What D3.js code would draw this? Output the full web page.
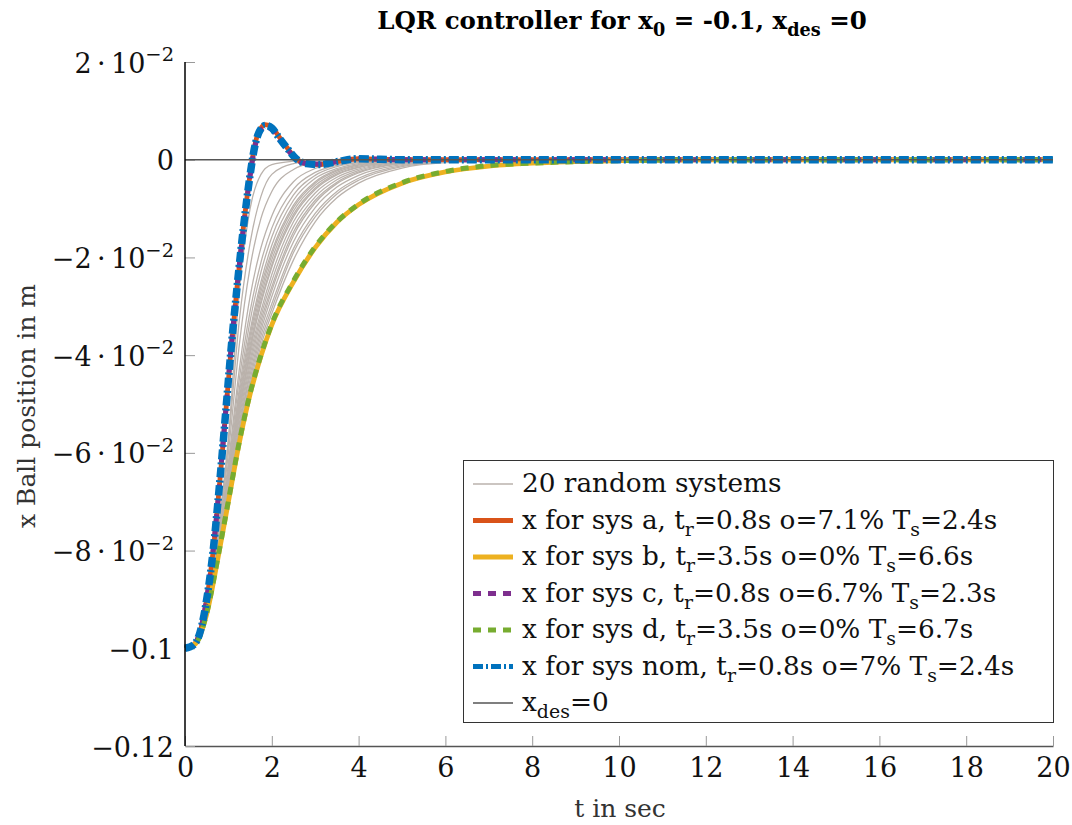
<!DOCTYPE html>
<html>
<head>
<meta charset="utf-8">
<script src="https://cdn.jsdelivr.net/npm/d3@7"></script>
<style>
  body { margin: 0; background: #fff; }
  text { font-family: "DejaVu Serif", serif; }
</style>
</head>
<body>
<div id="chart"></div>
<script>
// time grids (s)
var tFast = [0, 0.2, 0.35, 0.5, 0.65, 0.75, 0.85, 0.95, 1.05, 1.2, 1.35, 1.5, 1.6, 1.7, 1.85, 2.0, 2.15, 2.35, 2.55, 2.8, 3.1, 3.5, 4.0, 4.5, 5, 6, 8, 20]
var tSlow = [0, 0.25, 0.5, 0.75, 1, 1.25, 1.5, 1.75, 2, 2.5, 3, 3.5, 4, 5, 6, 7, 8, 10, 12, 20]
var tRand = [0, 0.25, 0.5, 0.75, 1, 1.25, 1.5, 1.75, 2, 2.5, 3, 3.5, 4, 5, 6, 8, 10, 20]

// ball position (m)
var xSysA = [-0.1, -0.0993, -0.0966, -0.09, -0.08, -0.071, -0.061, -0.0505, -0.04, -0.026, -0.0135, -0.003, 0.0026, 0.0057, 0.0072, 0.0067, 0.0049, 0.0025, 0.0003, -0.0008, -0.001, -0.0004, 0.0002, 0.0001, 0, 0, 0, 0]
var xSysC = [-0.1, -0.0993, -0.0965, -0.0898, -0.0797, -0.0708, -0.0607, -0.0502, -0.0398, -0.026, -0.0137, -0.0033, 0.0022, 0.0052, 0.0067, 0.0062, 0.0045, 0.0022, 0.0002, -0.0008, -0.0009, -0.0004, 0.0002, 0.0001, 0, 0, 0, 0]
var xSysNom = [-0.1, -0.0993, -0.0966, -0.09, -0.0799, -0.0709, -0.0609, -0.0504, -0.0399, -0.026, -0.0136, -0.0031, 0.0024, 0.0055, 0.007, 0.0065, 0.0047, 0.0024, 0.0003, -0.0008, -0.001, -0.0004, 0.0002, 0.0001, 0, 0, 0, 0]
var xSysB = [-0.1, -0.099, -0.093, -0.082, -0.07, -0.058, -0.048, -0.0402, -0.0338, -0.025, -0.018, -0.0128, -0.0092, -0.0048, -0.0025, -0.0013, -0.0007, -0.0002, -0.00005, 0]
var xSysD = [-0.1, -0.099, -0.0928, -0.0818, -0.0698, -0.0578, -0.0478, -0.04, -0.0336, -0.0248, -0.0178, -0.0127, -0.0091, -0.0047, -0.0024, -0.0012, -0.0007, -0.0002, 0, 0]

var xRandom = [
  [-0.1, -0.0985, -0.091, -0.077, -0.057, -0.027, -0.010, -0.003, -0.001, -0.0003, -0.0001, 0, 0, 0, 0, 0, 0, 0],
  [-0.1, -0.0985, -0.091, -0.077, -0.058, -0.033, -0.017, -0.0075, -0.003, -0.0008, -0.0002, 0, 0, 0, 0, 0, 0, 0],
  [-0.1, -0.0986, -0.092, -0.078, -0.060, -0.038, -0.022, -0.012, -0.0065, -0.002, -0.0006, -0.0002, 0, 0, 0, 0, 0, 0],
  [-0.1, -0.0986, -0.092, -0.079, -0.062, -0.043, -0.028, -0.018, -0.0115, -0.0045, -0.0018, -0.0007, -0.0003, 0, 0, 0, 0, 0],
  [-0.1, -0.0987, -0.092, -0.079, -0.063, -0.045, -0.031, -0.021, -0.014, -0.006, -0.0026, -0.0011, -0.0005, -0.0001, 0, 0, 0, 0],
  [-0.1, -0.0987, -0.092, -0.080, -0.064, -0.047, -0.033, -0.023, -0.0158, -0.0072, -0.0032, -0.0014, -0.0006, -0.0001, 0, 0, 0, 0],
  [-0.1, -0.0987, -0.092, -0.080, -0.064, -0.048, -0.035, -0.025, -0.0175, -0.0083, -0.0038, -0.0018, -0.0008, -0.0002, 0, 0, 0, 0],
  [-0.1, -0.0988, -0.092, -0.080, -0.065, -0.049, -0.036, -0.026, -0.0188, -0.0093, -0.0045, -0.0021, -0.001, -0.0002, 0, 0, 0, 0],
  [-0.1, -0.0988, -0.092, -0.080, -0.065, -0.050, -0.037, -0.027, -0.0195, -0.0098, -0.0048, -0.0023, -0.0011, -0.0003, -0.0001, 0, 0, 0],
  [-0.1, -0.0988, -0.092, -0.081, -0.066, -0.050, -0.038, -0.028, -0.0205, -0.0105, -0.0053, -0.0026, -0.0013, -0.0003, -0.0001, 0, 0, 0],
  [-0.1, -0.0988, -0.093, -0.081, -0.066, -0.051, -0.039, -0.029, -0.0215, -0.0112, -0.0058, -0.0029, -0.0015, -0.0004, -0.0001, 0, 0, 0],
  [-0.1, -0.0989, -0.093, -0.081, -0.066, -0.052, -0.039, -0.0295, -0.022, -0.0117, -0.0061, -0.0031, -0.0016, -0.0004, -0.0001, 0, 0, 0],
  [-0.1, -0.0989, -0.093, -0.081, -0.067, -0.052, -0.040, -0.031, -0.0235, -0.0127, -0.0068, -0.0036, -0.0019, -0.0005, -0.0001, 0, 0, 0],
  [-0.1, -0.0989, -0.093, -0.081, -0.067, -0.053, -0.041, -0.032, -0.0248, -0.0138, -0.0076, -0.0041, -0.0022, -0.0006, -0.0002, 0, 0, 0],
  [-0.1, -0.0989, -0.093, -0.081, -0.068, -0.054, -0.042, -0.033, -0.026, -0.0148, -0.0083, -0.0046, -0.0025, -0.0007, -0.0002, 0, 0, 0],
  [-0.1, -0.099, -0.093, -0.082, -0.068, -0.055, -0.043, -0.034, -0.0268, -0.0155, -0.0088, -0.0049, -0.0027, -0.0008, -0.0002, 0, 0, 0],
  [-0.1, -0.099, -0.093, -0.082, -0.068, -0.055, -0.044, -0.035, -0.028, -0.0168, -0.0098, -0.0056, -0.0032, -0.001, -0.0003, 0, 0, 0],
  [-0.1, -0.099, -0.093, -0.082, -0.069, -0.056, -0.045, -0.036, -0.0295, -0.0182, -0.011, -0.0065, -0.0038, -0.0012, -0.0004, -0.0001, 0, 0],
  [-0.1, -0.099, -0.093, -0.082, -0.069, -0.057, -0.046, -0.037, -0.0305, -0.019, -0.0117, -0.007, -0.0042, -0.0014, -0.0005, -0.0001, 0, 0],
  [-0.1, -0.099, -0.093, -0.082, -0.069, -0.057, -0.047, -0.038, -0.0315, -0.0205, -0.0127, -0.0078, -0.0048, -0.0017, -0.0006, -0.0001, 0, 0]
]

var tDes = [0, 20]
var xDes = [0, 0]

var xTickVals = [0, 2, 4, 6, 8, 10, 12, 14, 16, 18, 20]
var yTickVals = [-0.12, -0.1, -0.08, -0.06, -0.04, -0.02, 0, 0.02]
var yTickLabels = ["\u22120.12", "\u22120.1", "\u22128\u2009\u00b7\u200910^{\u22122}", "\u22126\u2009\u00b7\u200910^{\u22122}",
  "\u22124\u2009\u00b7\u200910^{\u22122}", "\u22122\u2009\u00b7\u200910^{\u22122}", "0", "2\u2009\u00b7\u200910^{\u22122}"]

var legendLabels = [
  "20 random systems",
  "x for sys a, t_{r}=0.8s o=7.1% T_{s}=2.4s",
  "x for sys b, t_{r}=3.5s o=0% T_{s}=6.6s",
  "x for sys c, t_{r}=0.8s o=6.7% T_{s}=2.3s",
  "x for sys d, t_{r}=3.5s o=0% T_{s}=6.7s",
  "x for sys nom, t_{r}=0.8s o=7% T_{s}=2.4s",
  "x_{des}=0"
]

var styles = [
  {color: "#bab2ac", width: 1.3, dash: null},
  {color: "#D95319", width: 4.8, dash: null},
  {color: "#EDB120", width: 4.8, dash: null},
  {color: "#7E2F8E", width: 5, dash: "8,7"},
  {color: "#77AC30", width: 5, dash: "8,7"},
  {color: "#0072BD", width: 7.5, dash: "10,3,2,3"},
  {color: "#555555", width: 1.6, dash: null}
]

var width = 1072
var height = 825
var fs = 26.3

var svg = d3.select("#chart").append("svg")
  .attr("width", width)
  .attr("height", height)

var xScale = d3.scaleLinear().domain([0, 20]).range([185, 1053])
var yScale = d3.scaleLinear().domain([-0.12, 0.02]).range([746, 62])

// text with _{sub} and ^{sup} parts
function rich(sel, str, size, base) {
  var parts = str.match(/[_^]\{[^}]*\}|[^_^]+/g)
  var shift = 0
  base = base || 0
  parts.forEach(function(p, i) {
    var target = 0, s = p, sz = size
    if (p[0] === "_") { target = size * 0.28; sz = size * 0.72; s = p.slice(2, -1) }
    else if (p[0] === "^") { target = -size * 0.42; sz = size * 0.72; s = p.slice(2, -1) }
    sel.append("tspan").attr("dy", target - shift + (i === 0 ? base : 0)).attr("font-size", sz).text(s)
    shift = target
  })
}

// axes
var xAxis = d3.axisBottom(xScale).tickValues(xTickVals).tickSizeInner(-10).tickSizeOuter(0).tickPadding(12)
var yAxis = d3.axisLeft(yScale).tickValues(yTickVals).tickSizeInner(-10).tickSizeOuter(0).tickPadding(11)

var gx = svg.append("g").attr("transform", "translate(0,746)").call(xAxis)
gx.select(".domain").attr("stroke", "#555").attr("stroke-width", 1.3)
gx.selectAll(".tick line").attr("stroke", "#999")
gx.selectAll(".tick text").attr("font-family", "DejaVu Serif").attr("font-size", 27).attr("fill", "#111")

var gy = svg.append("g").attr("transform", "translate(185,0)").call(yAxis)
gy.selectAll(".tick line").attr("stroke", "#999")
gy.selectAll(".tick text").each(function(d, i) {
  var t = d3.select(this).text("").attr("dy", null)
    .attr("font-family", "DejaVu Serif").attr("fill", "#111")
  rich(t, yTickLabels[i], 27, 10)
})

// lines
var line = d3.line()
  .x(d => xScale(d[0]))
  .y(d => yScale(d[1]))
  .curve(d3.curveMonotoneX)

var plot = svg.append("g")

function zip(ts, xs) { return ts.map((t, i) => [t, xs[i]]) }

plot.selectAll(".rand").data(xRandom).enter()
  .append("path").attr("class", "rand")
  .attr("d", d => line(zip(tRand, d)))
  .attr("fill", "none")
  .attr("stroke", styles[0].color)
  .attr("stroke-width", styles[0].width)

var mainSeries = [
  {t: tFast, x: xSysA, s: styles[1]},
  {t: tSlow, x: xSysB, s: styles[2]},
  {t: tFast, x: xSysC, s: styles[3]},
  {t: tSlow, x: xSysD, s: styles[4]},
  {t: tFast, x: xSysNom, s: styles[5]},
  {t: tDes, x: xDes, s: styles[6]}
]

plot.selectAll(".main").data(mainSeries).enter()
  .append("path").attr("class", "main")
  .attr("d", d => line(zip(d.t, d.x)))
  .attr("fill", "none")
  .attr("stroke", d => d.s.color)
  .attr("stroke-width", d => d.s.width)
  .attr("stroke-dasharray", d => d.s.dash)

// left axis line on top
svg.append("line")
  .attr("x1", 185).attr("x2", 185)
  .attr("y1", yScale(0.02)).attr("y2", yScale(-0.12))
  .attr("stroke", "#000").attr("stroke-width", 1.5)
gy.select(".domain").remove()

// title and labels
var title = svg.append("text")
  .attr("x", 622).attr("y", 29)
  .attr("text-anchor", "middle")
  .attr("font-weight", "bold")
  .attr("fill", "#000")
rich(title, "LQR controller for x_{0} = -0.1, x_{des} =0", 24.5)

svg.append("text")
  .attr("x", 620).attr("y", 817)
  .attr("text-anchor", "middle")
  .attr("font-size", 25)
  .attr("fill", "#333")
  .text("t in sec")

svg.append("text")
  .attr("transform", "translate(35,406) rotate(-90)")
  .attr("text-anchor", "middle")
  .attr("font-size", 25)
  .attr("fill", "#333")
  .text("x Ball position in m")

// legend
var legend = svg.append("g")
legend.append("rect")
  .attr("x", 463.5).attr("y", 460.5)
  .attr("width", 590).attr("height", 262)
  .attr("fill", "#fff").attr("stroke", "#333").attr("stroke-width", 1)

var rows = legend.selectAll(".row").data(legendLabels).enter()
  .append("g").attr("class", "row")
  .attr("transform", (d, i) => "translate(0," + (492 + i * 36.5) + ")")

rows.append("line")
  .attr("x1", 473).attr("x2", 513)
  .attr("y1", -8).attr("y2", -8)
  .attr("stroke", (d, i) => styles[i].color)
  .attr("stroke-width", (d, i) => Math.min(styles[i].width, 5))
  .attr("stroke-dasharray", (d, i) => styles[i].dash)

rows.append("text")
  .attr("x", 522).attr("y", 0)
  .attr("fill", "#111")
  .each(function(d) { rich(d3.select(this), d, fs) })
</script>
</body>
</html>
